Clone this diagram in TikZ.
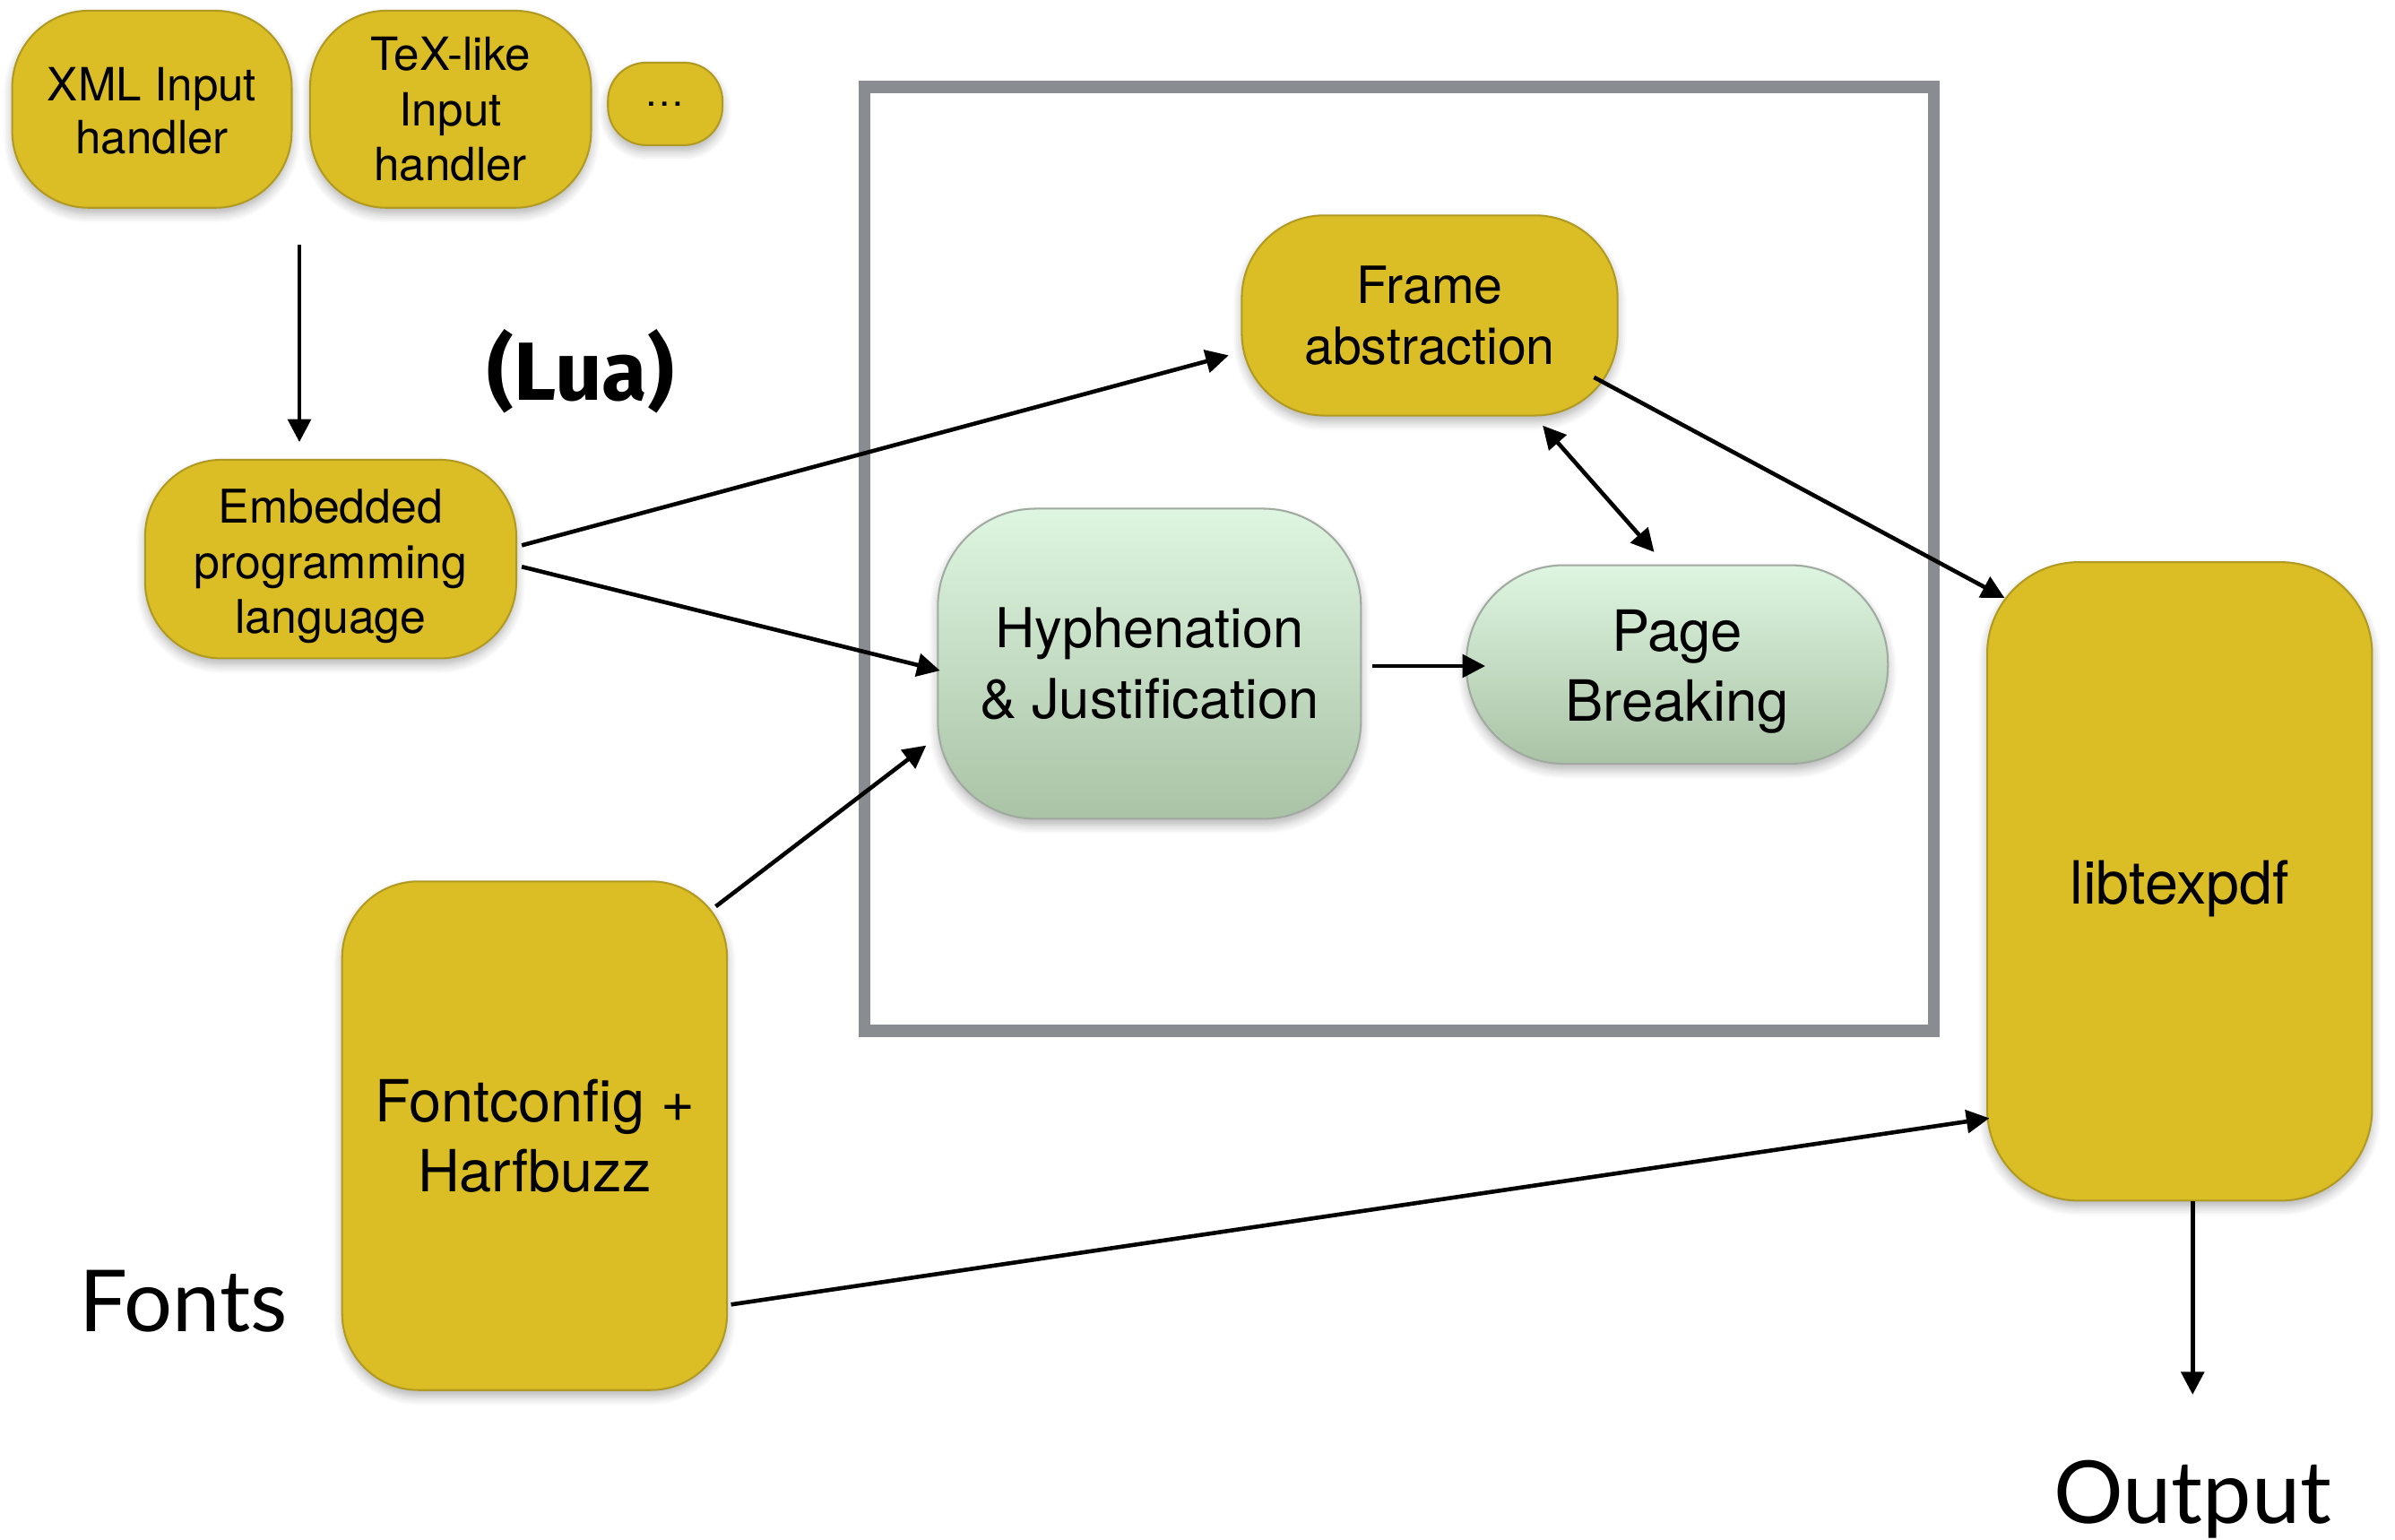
\documentclass[tikz,border=0pt]{standalone}
\usepackage{fontspec}
\setmainfont{TeX Gyre Heros}
\newfontfamily\lightfont{Lato}
\newfontfamily\brushfont{Fira Sans}
\usetikzlibrary{shadows.blur,arrows.meta,calc}
\newcommand\fsz[2]{\fontsize{#1}{#2}\selectfont}
\newcommand\lines[2]{\raisebox{#1}[0pt][0pt]{\begin{tabular}{@{}c@{}}#2\end{tabular}}}
\definecolor{ymain}{HTML}{DBBD25}
\definecolor{ybord}{HTML}{B09A22}
\definecolor{gtop}{HTML}{DEF6E1}
\definecolor{gbot}{HTML}{AAC2A5}
\definecolor{gbord}{HTML}{A0AAA0}
\definecolor{framegray}{HTML}{898C91}
\tikzset{
  shade/.style={blur shadow={shadow blur steps=6, shadow xshift=0pt, shadow yshift=-2pt, shadow opacity=30, shadow blur radius=3pt}},
  ybox/.style={draw=ybord, line width=0.6pt, fill=ymain, shade, align=center, inner sep=0pt},
  gbox/.style={draw=gbord, line width=0.6pt, top color=gtop, bottom color=gbot, shade, align=center, inner sep=0pt},
  arr/.style={-{Triangle[length=7.5pt,width=7.5pt]}, line width=1.35pt},
  darr/.style={{Triangle[length=7.5pt,width=7.5pt]}-{Triangle[length=7.5pt,width=7.5pt]}, line width=1.35pt}
}
\begin{document}
\begin{tikzpicture}[x=0.5pt,y=-0.5pt]
\useasboundingbox (0,0) rectangle (1568,1007.6);
% frame
\node[draw=framegray, line width=4pt, minimum width=350pt, minimum height=309pt, inner sep=0pt] (frame) at (916,366) {};
% input handlers
\node[ybox, minimum width=91.5pt, minimum height=64.5pt, rounded corners=25pt, font=\fsz{15}{17.5}] (xml) at (99.5,71.5) {\lines{-6pt}{XML Input\\handler}};
\node[ybox, minimum width=92pt, minimum height=64.5pt, rounded corners=25pt, font=\fsz{15}{18}] (tex) at (295,71.5) {TeX-like\\Input\\handler};
\node[ybox, minimum width=37.5pt, minimum height=27pt, rounded corners=12.5pt, font=\fsz{13}{15}] (dots) at (435.5,68) {\ldots};
\node[font=\brushfont\bfseries\fsz{27}{30}] (lua) at (380,243) {(Lua)};
\node[ybox, minimum width=121.5pt, minimum height=65pt, rounded corners=25pt, font=\fsz{15.2}{18}] (emb) at (216.5,366) {\lines{-6.3pt}{Embedded\\programming\\language}};
\node[ybox, minimum width=123pt, minimum height=65.5pt, rounded corners=27pt, font=\fsz{16.8}{20}] (fab) at (936,206.5) {Frame\\abstraction};
\node[gbox, minimum width=138.5pt, minimum height=101.5pt, rounded corners=32pt, font=\fsz{18}{23}] (hyph) at (752.5,434.5) {Hyphenation\\\& Justification};
\node[gbox, minimum width=138pt, minimum height=65pt, rounded corners=32pt, font=\fsz{18.6}{23}] (page) at (1098,435) {\lines{-6.9pt}{Page\\Breaking}};
\node[ybox, minimum width=126pt, minimum height=209pt, rounded corners=30pt, font=\fsz{19.5}{23}] (lib) at (1427,577) {\raisebox{-7.5pt}[0pt][0pt]{libtexpdf}};
\node[ybox, minimum width=126pt, minimum height=166.5pt, rounded corners=25pt, font=\fsz{19}{23}] (font) at (350,743.5) {Fontconfig +\\Harfbuzz};
\node[anchor=base, inner sep=0pt, font=\lightfont\fsz{28}{32}] (fonts) at (120,872) {Fonts};
\node[anchor=base, inner sep=0pt, font=\lightfont\fsz{28.5}{34}] (out) at (1435.5,997) {Output};
% connectors
\coordinate (inputs) at (196,160);
\draw[arr, shorten >=5.5pt] (inputs) -- (inputs |- emb.north);
\draw[arr] ($(emb.east)+(3,-9)$) -- ($(fab.south west)+(-8,-40)$);
\draw[arr] ($(emb.east)+(3,5)$) -- ($(hyph.west)+(2,4.5)$);
\draw[arr] ($(font.north east)+(-8,17)$) -- ($(hyph.west)+(-7,53.5)$);
\draw[arr] ($(hyph.east)+(7,1.5)$) -- ($(page.west)+(13,1)$);
\draw[darr] ($(fab.south)+(74,6)$) -- ($(page.north)+(-15,-8)$);
\draw[arr] ($(fab.east)+(-16,40.5)$) -- ($(lib.north west)+(12,24)$);
\draw[arr] ($(font.east)+(2,110.5)$) -- ($(lib.west)+(2,155)$);
\draw[arr] ($(lib.south)+(8.5,0)$) -- ($(out.base)+(0,-84)$);
\end{tikzpicture}
\end{document}
